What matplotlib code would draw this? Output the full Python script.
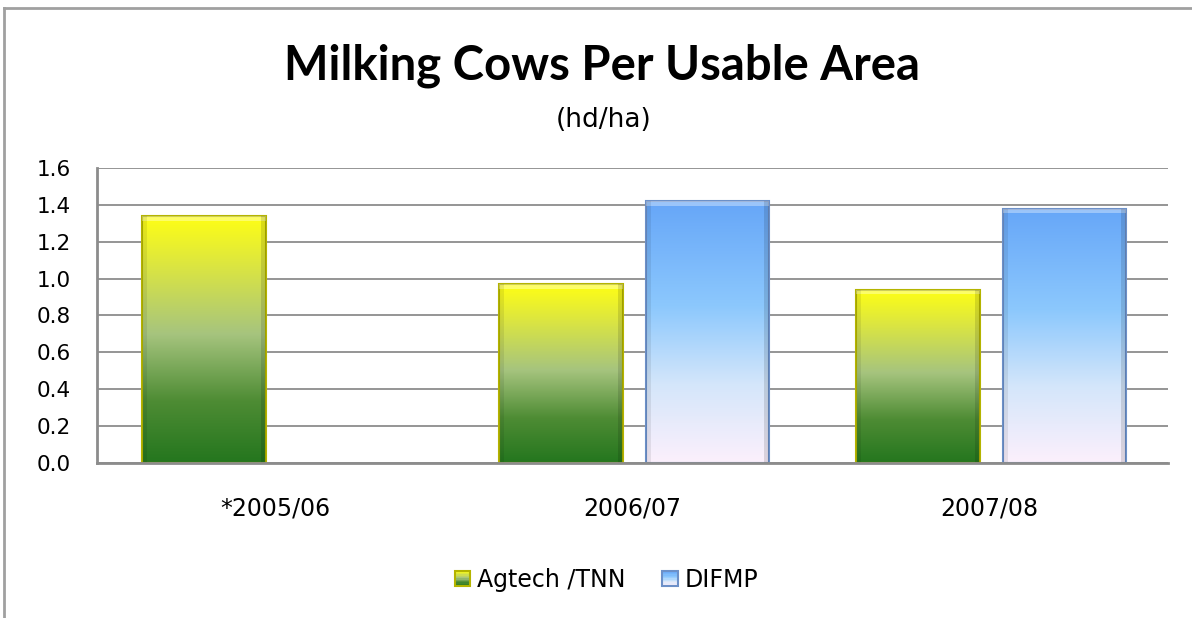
import numpy as np
import matplotlib
matplotlib.use("Agg")
import matplotlib.pyplot as plt
from matplotlib.colors import LinearSegmentedColormap
from matplotlib.patches import Rectangle
from matplotlib.legend_handler import HandlerBase
from matplotlib.lines import Line2D

categories = ['*2005/06', '2006/07', '2007/08']
agtech = [1.34, 0.97, 0.94]
difmp = [None, 1.42, 1.38]
series_names = ['Agtech /TNN', 'DIFMP']
yticks = [0.0, 0.2, 0.4, 0.6, 0.8, 1.0, 1.2, 1.4, 1.6]

plt.rcParams['font.family'] = ['DejaVu Sans']

yellow_cmap = LinearSegmentedColormap.from_list(
    'yg', [(0.0, '#24761E'), (0.25, '#4E8C34'), (0.52, '#A6C47E'),
           (0.8, '#DCE640'), (1.0, '#FFFF14')])
blue_cmap = LinearSegmentedColormap.from_list(
    'bl', [(0.0, '#FCF0FC'), (0.3, '#D4E6FA'), (0.6, '#8CC8FD'),
           (1.0, '#66A6F8')])
edge_y = '#B4B400'
edge_b = '#6C90C8'

fig = plt.figure(figsize=(11.92, 6.18), dpi=100)
ax = fig.add_axes([0.0814, 0.2508, 0.8985, 0.4774])

x = np.arange(len(categories))
bw = 0.347
off_a = -0.200
off_b = 0.210
grad = np.linspace(0, 1, 256).reshape(-1, 1)


def grad_bar(xc, h, cmap, edge):
    x0 = xc - bw / 2
    rect = Rectangle((x0, 0), bw, h, facecolor='none', edgecolor=edge,
                     linewidth=1.5, zorder=3)
    ax.add_patch(rect)
    im = ax.imshow(grad, cmap=cmap, origin='lower', aspect='auto',
                   extent=[x0, x0 + bw, 0, h], zorder=2, interpolation='bilinear')
    im.set_clip_path(rect)
    # bevel: top highlight, side shading
    ax.add_patch(Rectangle((x0, h - 0.025), bw, 0.025, facecolor='white',
                           alpha=0.35, edgecolor='none', zorder=3))
    sw = 0.014
    ax.add_patch(Rectangle((x0, 0), sw, h, facecolor='black',
                           alpha=0.08, edgecolor='none', zorder=3))
    ax.add_patch(Rectangle((x0 + bw - sw, 0), sw, h, facecolor='black',
                           alpha=0.12, edgecolor='none', zorder=3))


for i in range(len(categories)):
    if agtech[i] is not None:
        grad_bar(x[i] + off_a, agtech[i], yellow_cmap, edge_y)
    if difmp[i] is not None:
        grad_bar(x[i] + off_b, difmp[i], blue_cmap, edge_b)

ax.set_xlim(-0.5, len(categories) - 0.5)
ax.set_ylim(0, 1.6)
ax.set_yticks(yticks)
ax.set_yticklabels([f'{v:.1f}' for v in yticks], fontsize=15.5)
ax.set_xticks(x)
ax.set_xticklabels(categories, fontsize=17)
ax.tick_params(axis='both', length=0, colors='#000000')
ax.tick_params(axis='y', pad=19)
ax.tick_params(axis='x', pad=24)
ax.yaxis.grid(True, color='#8C8C8C', linewidth=1.3, zorder=1)
ax.set_axisbelow(True)
for s in ['top', 'right']:
    ax.spines[s].set_visible(False)
for s in ['left', 'bottom']:
    ax.spines[s].set_color('#8C8C8C')
    ax.spines[s].set_linewidth(2)
    ax.spines[s].set_zorder(4)

fig.text(0.505, 0.872, 'Milking Cows Per Usable Area', ha='center', va='baseline',
         fontsize=34, fontweight='bold', family=['Lato', 'DejaVu Sans'])
fig.text(0.506, 0.795, '(hd/ha)', ha='center', va='baseline', fontsize=19)

# chart border (top and left)
fig.add_artist(Line2D([0.0035, 1.0], [0.987, 0.987], transform=fig.transFigure,
                      color='#A0A0A0', linewidth=2))
fig.add_artist(Line2D([0.0035, 0.0035], [0.0, 0.987], transform=fig.transFigure,
                      color='#A0A0A0', linewidth=2))


class GradHandler(HandlerBase):
    def __init__(self, cmap, edge):
        super().__init__()
        self.cmap = cmap
        self.edge = edge

    def create_artists(self, legend, orig_handle, xdescent, ydescent, width,
                       height, fontsize, trans):
        size = height * 0.95
        x0 = -xdescent + (width - size) / 2
        y0 = -ydescent + (height - size) / 2
        arts = []
        n = 12
        for k in range(n):
            c = self.cmap(k / (n - 1))
            arts.append(Rectangle((x0, y0 + k * size / n), size, size / n + 0.3,
                                  facecolor=c, edgecolor='none', transform=trans))
        arts.append(Rectangle((x0, y0), size, size, facecolor='none',
                              edgecolor=self.edge, linewidth=1.5, transform=trans))
        return arts


h1 = Rectangle((0, 0), 1, 1)
h2 = Rectangle((0, 0), 1, 1)
fig.legend([h1, h2], series_names, loc='center', bbox_to_anchor=(0.509, 0.062),
           ncol=2, frameon=False, fontsize=17, handlelength=0.6, handleheight=0.7,
           handletextpad=0.3, columnspacing=1.6,
           handler_map={h1: GradHandler(yellow_cmap, edge_y),
                        h2: GradHandler(blue_cmap, edge_b)})

fig.savefig('out.png', dpi=100)
